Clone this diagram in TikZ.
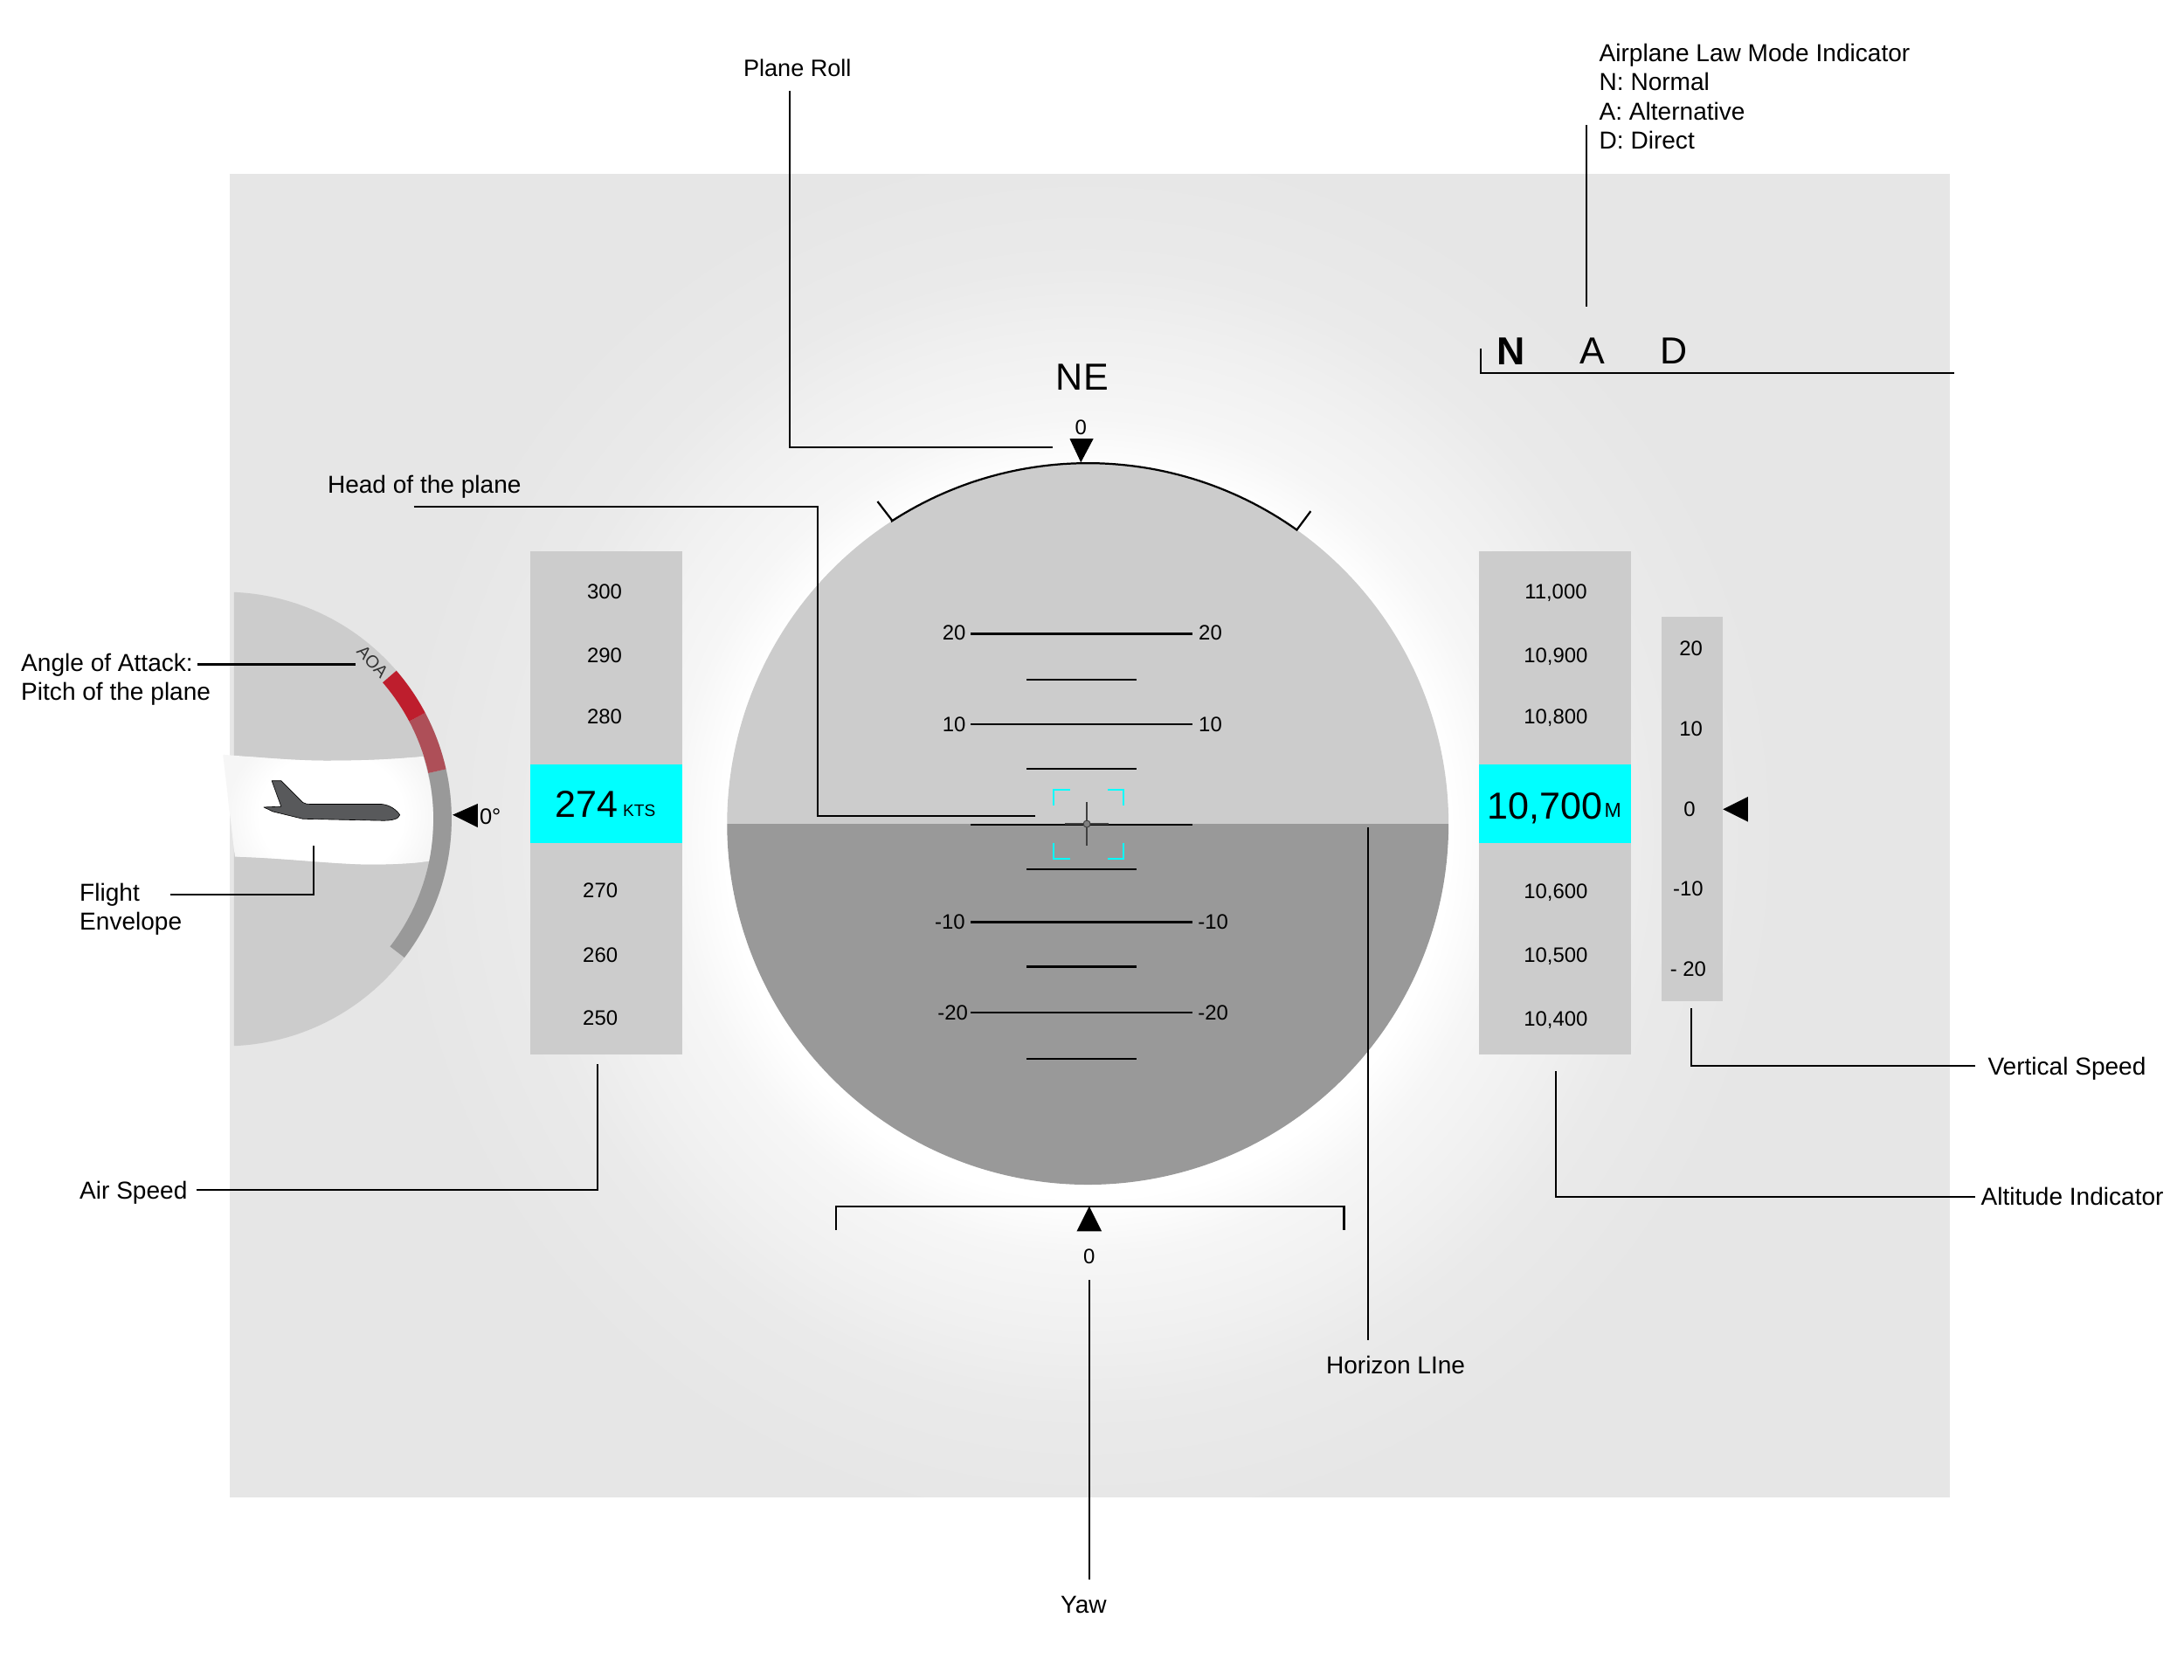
\documentclass[tikz,border=0pt]{standalone}
\usepackage{fontspec}
\setmainfont{Liberation Sans}
\definecolor{panelc}{HTML}{E6E6E6}
\definecolor{glowa}{HTML}{F6F6F6}
\definecolor{glowb}{HTML}{F0F0F0}
\definecolor{glowc}{HTML}{EAEAEA}
\definecolor{tapec}{HTML}{CCCCCC}
\definecolor{lowc}{HTML}{999999}
\definecolor{redc}{HTML}{BE1E2D}
\definecolor{pinkc}{HTML}{AE4F58}
\definecolor{planec}{HTML}{58595B}
\definecolor{hudcyan}{HTML}{00FFFF}
\pgfdeclareradialshading{hudglow}{\pgfpoint{0bp}{0bp}}{color(0bp)=(white); color(13bp)=(white); color(15bp)=(glowa); color(18bp)=(glowb); color(20.5bp)=(glowc); color(25bp)=(panelc); color(50bp)=(panelc)}
\pgfdeclareradialshading{envglow}{\pgfpoint{0bp}{0bp}}{color(0bp)=(white); color(17bp)=(white); color(25bp)=(glowa); color(50bp)=(glowa)}
\newcommand{\bandseg}[3]{\fill[#1] plot[domain=#2:#3,samples=40] ({161.2+163*cos(\x)},{588-163*sin(\x)}) -- plot[domain=#3:#2,samples=40] ({161.2+150*cos(\x)},{588-150*sin(\x)}) -- cycle;}
\tikzset{
  lead/.style={draw=black,line width=1.3pt,line cap=butt},
  pitch/.style={draw=black,line width=1.4pt},
  lbl/.style={inner sep=0pt,anchor=west,font=\fontsize{17.6}{21}\selectfont,text height=13.5pt,text depth=1.5pt},
  lblc/.style={lbl,anchor=center},
  lines/.style={inner sep=0pt,anchor=north west,align=left,font=\fontsize{17.6}{21}\selectfont},
  num/.style={inner sep=0pt,font=\fontsize{15}{18}\selectfont},
  big/.style={inner sep=0pt,font=\fontsize{27}{30}\selectfont},
  small/.style={inner sep=0pt,font=\fontsize{12}{14}\selectfont},
  tri/.style={fill=black,draw=none},
  bracketc/.style={draw=hudcyan,line width=1.5pt,line join=miter}
}
\begin{document}
\begin{tikzpicture}[x=1pt,y=-1pt]
\useasboundingbox (0,0) rectangle (1568,1206);
\fill[white] (0,0) rectangle (1568,1206);
% panel
\fill[panelc] (165,125) rectangle (1400,1075);
\begin{scope}
  \clip (165,125) rectangle (1400,1075);
  \shade[shading=hudglow] (781,600) circle[radius=500pt];
\end{scope}
% left gauge
\begin{scope}
  \clip (168,400) rectangle (400,780);
  \fill[tapec] (161.2,588) circle[radius=163pt];
\end{scope}
% flight envelope
\fill[glowa] (160.1,541.8) .. controls (190,544) and (215,546.5) .. (240.3,546.1) .. controls (265,546) and (285,545) .. (303.9,543) .. controls (309,560) and (311,575) .. (311,586.2) .. controls (311,597) and (310,608) .. (308.7,618.2) .. controls (295,620) and (280,620.6) .. (264.3,620.6) .. controls (235,620) and (205,616) .. (168.7,615) -- cycle;
\begin{scope}
  \clip (160.1,541.8) .. controls (190,544) and (215,546.5) .. (240.3,546.1) .. controls (265,546) and (285,545) .. (303.9,543) .. controls (309,560) and (311,575) .. (311,586.2) .. controls (311,597) and (310,608) .. (308.7,618.2) .. controls (295,620) and (280,620.6) .. (264.3,620.6) .. controls (235,620) and (205,616) .. (168.7,615) -- cycle;
  \shade[shading=envglow] (238,585) ellipse[x radius=76pt,y radius=66pt];
\end{scope}
% AOA band
\bandseg{lowc}{-37.6}{12.7}
\bandseg{pinkc}{12.7}{27.9}
\bandseg{redc}{27.9}{40.8}
\node[small,rotate=-48,font=\fontsize{12.5}{14}\selectfont,text=black!80] (aoa) at (267.5,475) {AOA};
% plane
\begin{scope}[shift={(144.25,401.4)},x=0.24pt,y=-0.24pt]
  \filldraw[fill=planec,draw=black,line width=0.4pt,line join=round] (212,663) -- (240,663) -- (305,728) .. controls (312,732) and (318,733) .. (325,733) -- (540,733) .. controls (565,735) and (585,750) .. (595,765) .. controls (592,778) and (570,782) .. (545,782) -- (305,777) -- (215,755) -- (188,742) -- (240,740) -- cycle;
\end{scope}
% zero-degree pointer
\fill[tri] (325,585) -- (343,577) -- (343,594) -- cycle;
\node[num,font=\fontsize{16}{18}\selectfont] (deg) at (352,586) {0°};
% speed tape
\fill[tapec] (381,396) rectangle (490,757);
\fill[hudcyan] (381,549) rectangle (490,605);
\node[num] (s300) at (434,424.5) {300};
\node[num] (s290) at (434,470.5) {290};
\node[num] (s280) at (434,514.5) {280};
\node[num] (s270) at (431,639.5) {270};
\node[num] (s260) at (431,685.5) {260};
\node[num] (s250) at (431,731) {250};
\node[big] (spd) at (421,577.5) {274};
\node[small] (kts) at (459,582) {KTS};
% altitude tape
\fill[tapec] (1062,396) rectangle (1171,757);
\fill[hudcyan] (1062,549) rectangle (1171,605);
\node[num] (a11) at (1117,425.5) {11,000};
\node[num] (a109) at (1117,471.5) {10,900};
\node[num] (a108) at (1117,515.5) {10,800};
\node[num] (a106) at (1117,640.5) {10,600};
\node[num] (a105) at (1117,686.5) {10,500};
\node[num] (a104) at (1117,732.5) {10,400};
\node[big] (alt) at (1109,580) {10,700};
\node[small,font=\fontsize{14.5}{16}\selectfont] (altm) at (1158,581.5) {M};
% vertical speed tape
\fill[tapec] (1193,443) rectangle (1237,719);
\node[num] (v20) at (1214,465.5) {20};
\node[num] (v10) at (1214,523) {10};
\node[num] (v0) at (1213,581) {0};
\node[num] (vm10) at (1212,638) {-10};
\node[num] (vm20) at (1212,696) {- 20};
\fill[tri] (1237,581) -- (1255,572) -- (1255,590) -- cycle;
% main attitude circle
\fill[tapec] plot[domain=0:180,samples=181] ({781+259*cos(\x)},{591.5-259*sin(\x)}) -- cycle;
\fill[lowc] plot[domain=180:360,samples=181] ({781+259*cos(\x)},{591.5-259*sin(\x)}) -- cycle;
% roll scale
\draw[pitch,line join=miter] (630,360) -- (640,373) -- plot[domain=122.9:54.6,samples=60] ({781+259*cos(\x)},{591.5-259*sin(\x)}) -- (941,367);
\fill[tri] (776,332) -- (768,315) -- (785,315) -- cycle;
\node[num] (roll0) at (776,307) {0};
\node[big] (ne) at (777,271) {NE};
% pitch ladder
\foreach \y in {455,520,592,662,727} \draw[pitch] (697,\y) -- (856,\y);
\foreach \y in {488,552,624,694,760} \draw[pitch] (737,\y) -- (816,\y);
\node[num] (pl20) at (685,454) {20};
\node[num] (pr20) at (869,454) {20};
\node[num] (pl10) at (685,520) {10};
\node[num] (pr10) at (869,520) {10};
\node[num] (plm10) at (682,662) {-10};
\node[num] (prm10) at (871,662) {-10};
\node[num] (plm20) at (684,727) {-20};
\node[num] (prm20) at (871,727) {-20};
% aircraft symbol
\draw[bracketc] (756.4,578) -- (756.4,566.9) -- (768,566.9);
\draw[bracketc] (795.5,566.9) -- (806.6,566.9) -- (806.6,578);
\draw[bracketc] (756.4,605) -- (756.4,616.6) -- (768,616.6);
\draw[bracketc] (795.5,616.6) -- (806.6,616.6) -- (806.6,605);
\draw[draw=black!75,line width=1.2pt] (764.6,591.5) -- (796,591.5) (780.3,576) -- (780.3,607);
\filldraw[fill=black!50,draw=black!75,line width=0.6pt] (780.3,591.5) circle[radius=2.5pt];
% yaw scale
\draw[pitch,line join=miter] (600,883) -- (600,866) -- (965,866) -- (965,883);
\fill[tri] (782,866) -- (773,884) -- (791,884) -- cycle;
\node[num] (yaw0) at (782,902) {0};
% law mode
\node[big,font=\fontsize{28}{30}\selectfont\bfseries] (modeN) at (1085,252) {N};
\node[big] (modeA) at (1143.5,252) {A};
\node[big] (modeD) at (1202,252) {D};
% callout texts
\node[lblc,font=\fontsize{17}{21}\selectfont] (tRoll) at (572.5,49) {Plane Roll};
\node[lines] (tLaw) at (1148,31) {Airplane Law Mode Indicator\\N: Normal\\A: Alternative\\D: Direct};
\node[lbl] (tHead) at (235,348) {Head of the plane};
\node[lines] (tAoa) at (15,469) {Angle of Attack:\\Pitch of the plane};
\node[lines] (tEnv) at (57,634) {Flight\\Envelope};
\node[lbl] (tAir) at (57,855) {Air Speed};
\node[lbl] (tVs) at (1427,766) {Vertical Speed};
\node[lbl] (tAlt) at (1422,859) {Altitude Indicator};
\node[lblc] (tHor) at (1002,980) {Horizon LIne};
\node[lblc] (tYaw) at (778,1152) {Yaw};
% connector ends
\coordinate (rollA) at (567,65); \coordinate (rollB) at (756,321);
\coordinate (headA) at (297,364); \coordinate (headK) at (587,364); \coordinate (headB) at (743,586);
\coordinate (aoaA) at (142,477); \coordinate (aoaB) at (255,477);
\coordinate (envA) at (122,642); \coordinate (envB) at (225,607);
\coordinate (airA) at (141,854); \coordinate (airB) at (429,764);
\coordinate (altA) at (1418,859); \coordinate (altB) at (1117,769);
\coordinate (vsA) at (1418,765); \coordinate (vsB) at (1214,724);
\coordinate (horA) at (982,594); \coordinate (horB) at (982,962);
\coordinate (yawA) at (782,919); \coordinate (yawB) at (782,1134);
\coordinate (lawA) at (1139,90); \coordinate (lawB) at (1139,220);
\coordinate (modeA1) at (1063,250); \coordinate (modeB1) at (1403,268);
% connectors
\draw[lead] (rollA) |- (rollB);
\draw[lead] (headA) -- (headK) |- (headB);
\draw[lead] (aoaA) -- (aoaB);
\draw[lead] (envA) -| (envB);
\draw[lead] (airA) -| (airB);
\draw[lead] (altA) -| (altB);
\draw[lead] (vsA) -| (vsB);
\draw[lead] (horA) -- (horB);
\draw[lead] (yawA) -- (yawB);
\draw[lead] (lawA) -- (lawB);
\draw[lead] (modeA1) |- (modeB1);
\end{tikzpicture}
\end{document}
